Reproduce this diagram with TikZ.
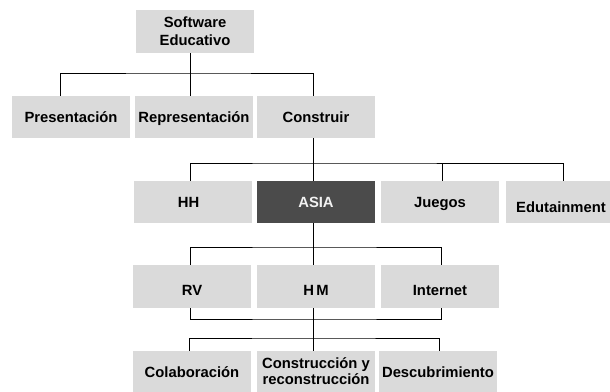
\documentclass[tikz,border=0pt]{standalone}
\usepackage{fontspec}
\setmainfont{Liberation Sans}
\definecolor{boxgray}{HTML}{DADADA}
\definecolor{darkbox}{HTML}{4B4B4B}
\definecolor{lighttext}{HTML}{F2F2F2}
\begin{document}
\begin{tikzpicture}[x=1pt,y=-1pt,
  gbox/.style={fill=boxgray,draw=none,inner sep=0pt,minimum width=118pt,minimum height=42pt,
    font=\bfseries\fontsize{14.8}{17}\selectfont,align=center},
  tb/.style={gbox,text height=10.5pt,text depth=0pt},
  dbox/.style={tb,fill=darkbox,text=lighttext},
  conn/.style={draw=black,line width=0.9pt}]
\useasboundingbox[fill=white] (0,0) rectangle (610,391);
% top
\node[gbox,minimum height=43pt,font=\bfseries\fontsize{14.8}{18}\selectfont] (se) at (195,31.5) {Software\\Educativo};
% row 1
\node[tb] (pres) at (71,117) {Presentación};
\node[tb] (repr) at (194,117) {Representación};
\node[tb] (cons) at (316,117) {Construir};
% row 2
\node[tb] (hh) at (193,202) {\hspace*{-9pt}HH};
\node[dbox] (asia) at (316,202) {ASIA};
\node[tb] (jue) at (440,202) {Juegos};
\node[gbox] (edu) at (565,202) {};
\node[anchor=base west,inner sep=0pt,font=\bfseries\fontsize{14.8}{17}\selectfont] (edut) at (516,212) {Edutainment};
% row 3
\node[tb,minimum height=43pt] (rv) at (192,286.5) {\raisebox{-4pt}{RV}};
\node[tb,minimum height=43pt] (hm) at (316,286.5) {\raisebox{-4pt}{H\,M}};
\node[tb,minimum height=43pt] (int) at (440,286.5) {\raisebox{-4pt}{Internet}};
% row 4
\node[tb] (col) at (192,372) {Colaboración};
\node[gbox,font=\bfseries\fontsize{14.8}{16.5}\selectfont] (cyr) at (316,372) {\raisebox{2pt}{\shortstack{Construcción y\\[-1pt]reconstrucción}}};
\node[tb] (des) at (438,372) {Descubrimiento};
% buses
\coordinate (b1) at (190,73);
\coordinate (b2) at (313,163);
\coordinate (b3) at (313,247);
\coordinate (b4) at (313,319);
\coordinate (b5) at (313,338);
% level 1
\draw[conn] (se.south -| b1) -- (b1);
\draw[conn] (pres.north -| 60,0) |- (b1) -- (b1 -| 313,0) -- (cons.north -| 313,0);
\draw[conn] (b1) -- (repr.north -| b1);
% level 2
\draw[conn] (cons.south -| b2) -- (b2);
\draw[conn] (hh.north -| 190,0) |- (b2) -- (b2 -| 563,0) -- (edu.north -| 563,0);
\draw[conn] (b2) -- (asia.north -| b2);
\draw[conn] (b2 -| 442,0) -- (jue.north -| 442,0);
% level 3
\draw[conn] (asia.south -| b3) -- (b3);
\draw[conn] (rv.north -| 190,0) |- (b3) -- (b3 -| 441,0) -- (int.north -| 441,0);
\draw[conn] (b3) -- (hm.north -| b3);
% joining row 3
\draw[conn] (rv.south -| 190,0) |- (b4) -| (int.south -| 441,0);
\draw[conn] (hm.south -| b5) -- (b5);
% level 4
\draw[conn] (col.north -| 189,0) |- (b5) -| (des.north -| 439,0);
\draw[conn] (b5) -- (cyr.north -| b5);
\end{tikzpicture}
\end{document}
